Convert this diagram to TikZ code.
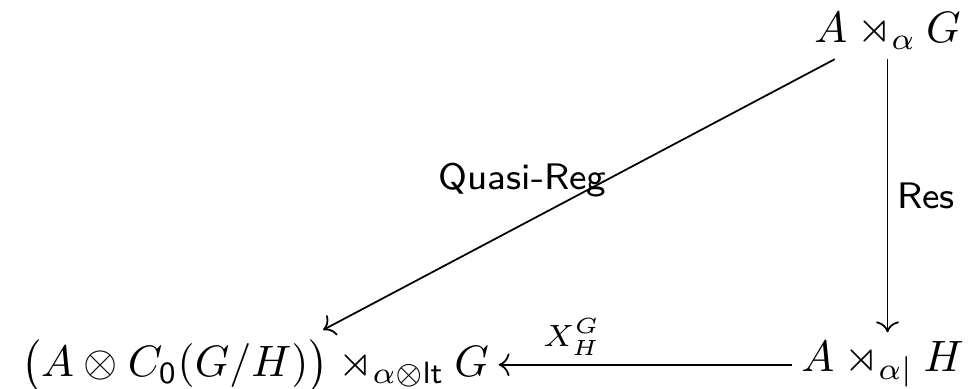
\documentclass[tikz,border=0pt]{standalone}
\usepackage{amsmath}
\usepackage{amssymb}
\usepackage{tikz}
\usetikzlibrary{arrows.meta,positioning,calc}

\begin{document}
\begin{tikzpicture}[every node/.style={font=\normalsize, inner sep=2pt}, lbl/.style={font=\fontsize{8.4}{10}\selectfont\sffamily}]
    \useasboundingbox (0,0) rectangle (7.768,3.112);
    \node (cross) [anchor=base] at (7.10,2.768) {$A \rtimes_{\alpha} G$};
    \node (restr) [anchor=base] at (7.06,0.136) {$A \rtimes_{\alpha|} H$};
    \node (induc) [anchor=base] at (2.04,0.096) {$\big(A \otimes C_{\mathsf{0}}(G/H)\big) \rtimes_{\alpha\otimes\mathsf{lt}} G$};
    \draw[-{To}] (cross.south) -- node[lbl, right] {Res} (cross.south |- restr.north);
    \draw[-{To}] (cross) -- node[lbl, above, xshift=-0.45cm, yshift=-0.1cm] {Quasi-Reg} (induc);
    \draw[-{To}] (restr.west) -- node[pos=0.75, above=0pt, font=\scriptsize] {$X_H^G$} (restr.west -| induc.east);
  \end{tikzpicture}
\end{document}
